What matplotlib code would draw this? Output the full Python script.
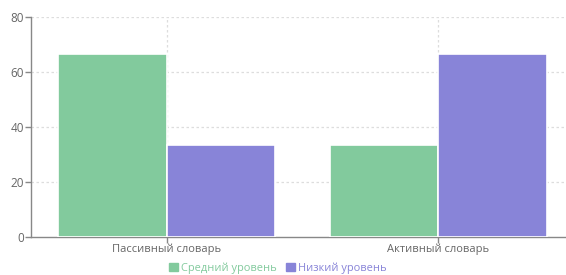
import matplotlib
matplotlib.use("Agg")
import matplotlib.pyplot as plt
import numpy as np
from matplotlib.patches import Patch

categories = ["Пассивный словарь", "Активный словарь"]
series_names = ["Средний уровень", "Низкий уровень"]
medium = [66.67, 33.33]
low = [33.33, 66.67]
colors = ["#82ca9d", "#8884d8"]
yticks = [0, 20, 40, 60, 80]

plt.rcParams['font.family'] = ['Open Sans', 'DejaVu Sans']

W, H = 566, 275
fig = plt.figure(figsize=(W/100, H/100), dpi=100)
ax = fig.add_axes([31/W, (H-237)/H, (574-31)/W, 220/H])

x = np.arange(len(categories))
bw = 0.4
ax.bar(x - bw/2, medium, width=bw, color=colors[0], edgecolor="white", linewidth=1.2, zorder=3)
ax.bar(x + bw/2, low, width=bw, color=colors[1], edgecolor="white", linewidth=1.2, zorder=3)

ax.set_xlim(-0.5, 1.5)
ax.set_ylim(0, 80)
ax.set_yticks(yticks)
ax.set_xticks(x)
ax.set_xticklabels(categories)

grid_c = "#dddddd"
for yv in yticks[1:]:
    ax.axhline(yv, color=grid_c, linestyle=(0, (2, 2)), linewidth=0.9, zorder=1)
for xv in x:
    ax.axvline(xv, color=grid_c, linestyle=(0, (2, 2)), linewidth=0.9, zorder=1)

for s in ["top", "right"]:
    ax.spines[s].set_visible(False)
for s in ["left", "bottom"]:
    ax.spines[s].set_color("#888888")
    ax.spines[s].set_linewidth(1.0)

ax.tick_params(axis="both", colors="#888888", labelcolor="#666666", labelsize=8, length=4, width=1)
ax.tick_params(axis="x", pad=1)
ax.tick_params(axis="y", pad=1, labelsize=8.5)

handles = [Patch(facecolor=c, edgecolor=c) for c in colors]
leg = fig.legend(handles, series_names, loc="center", bbox_to_anchor=(278/W, 1 - 268/H),
                 ncol=2, frameon=False, fontsize=7.9, handlelength=0.8, handleheight=0.8,
                 handletextpad=0.3, columnspacing=0.8, borderpad=0)
for t, c in zip(leg.get_texts(), colors):
    t.set_color(c)

fig.savefig("out.png", dpi=100)
